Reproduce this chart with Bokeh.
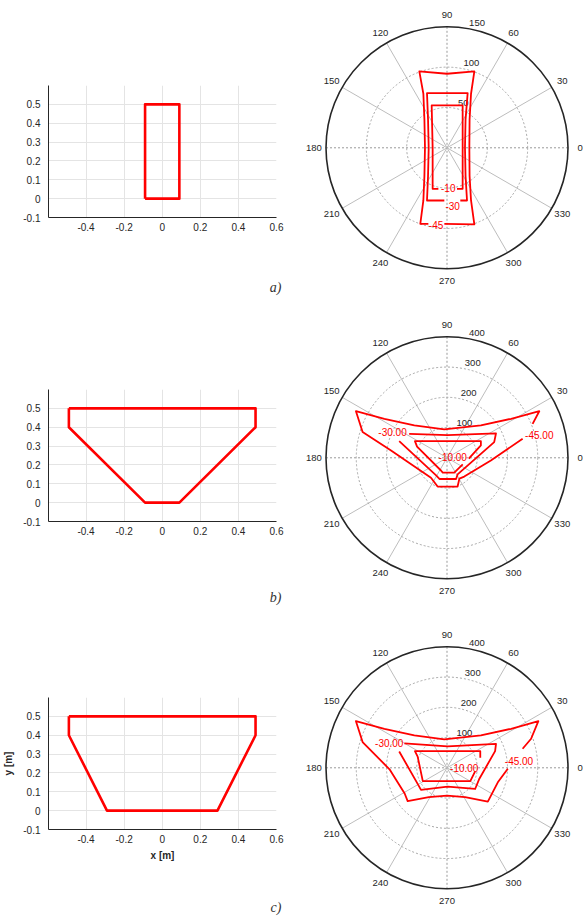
import math

from bokeh.core.properties import value
from bokeh.embed import file_html
from bokeh.layouts import column, row
from bokeh.models import FixedTicker, Range1d, Title
from bokeh.plotting import figure
from bokeh.resources import INLINE

SANS = "Liberation Sans"
SERIF = "Liberation Serif"
INK = "#262626"
RED = "#ff0000"

# ---------------------------------------------------------------------------
# Cross-section outlines [m]
# ---------------------------------------------------------------------------
sec_a_x = [-0.09, 0.09, 0.09, -0.09, -0.09]
sec_a_y = [0.0, 0.0, 0.5, 0.5, 0.0]

sec_b_x = [-0.49, 0.49, 0.49, 0.09, -0.09, -0.49, -0.49]
sec_b_y = [0.5, 0.5, 0.4, 0.0, 0.0, 0.4, 0.5]

sec_c_x = [-0.49, 0.49, 0.49, 0.29, -0.29, -0.49, -0.49]
sec_c_y = [0.5, 0.5, 0.4, 0.0, 0.0, 0.4, 0.5]

x_ticks = [-0.4, -0.2, 0.0, 0.2, 0.4, 0.6]
x_tick_labels = ["-0.4", "-0.2", "0", "0.2", "0.4", "0.6"]
y_ticks = [-0.1, 0.0, 0.1, 0.2, 0.3, 0.4, 0.5]
y_tick_labels = ["-0.1", "0", "0.1", "0.2", "0.3", "0.4", "0.5"]

# ---------------------------------------------------------------------------
# Polar diagrams: radial rings, spokes and contour lines (x/y in radial units)
# ---------------------------------------------------------------------------
rings_a = [50, 100, 150]
rings_b = [100, 200, 300, 400]
rings_c = [100, 200, 300, 400]
spoke_angles = [0, 30, 60, 90, 120, 150]
angle_labels = [0, 30, 60, 90, 120, 150, 180, 210, 240, 270, 300, 330]

# a) rectangular section
a_m10_x = [-10.7, -17.8, -17.8, -19.0, 19.4, 19.4, 19.4, 12.4]
a_m10_y = [-50.8, -50.8, 0.0, 52.5, 52.5, 0.0, -50.8, -50.8]
a_m30_x = [-3.3, -24.8, -23.5, -22.7, -23.5, -24.8, 25.6, 23.0, 22.3, 23.0, 24.8, 16.5]
a_m30_y = [-65.3, -65.3, -35.0, 0.0, 35.0, 67.8, 67.8, 35.0, 0.0, -35.0, -65.3, -65.3]
a_m45_x = [-23.1, -33.1, -29.3, -28.0, -27.3, -28.0, -29.3, -34.3, 0.0, 33.9,
           29.8, 28.0, 27.7, 28.0, 29.8, 33.9, -3.3]
a_m45_y = [-94.2, -94.2, -65.3, -35.0, 0.0, 35.0, 67.0, 94.7, 91.8, 94.7,
           67.0, 35.0, 0.0, -35.0, -65.3, -95.0, -94.2]
a_lab_text = ["-10", "-30", "-45"]
a_lab_x = [1.5, 7.0, -13.6]
a_lab_y = [-50.0, -72.3, -96.3]

# b) trapezoid with narrow bottom
b_m10_x = [72, 112, 112, -106, -99, -20, -14, 24, 52]
b_m10_y = [-3, 41, 55, 55, 37, -42, -49, -49, -22]
b_m30_x = [-125, 2, 162, 156, 35, 30, -25, -36, -158]
b_m30_y = [79, 75, 81, 52, -55, -70, -70, -58, 55]
b_m45_x = [283, 305, 212, 112, -9, -108, -207, -301, -279, -185, -53, -31,
           35, 41, 57, 145, 250]
b_m45_y = [112, 154, 129, 107, 94, 107, 129, 154, 85, 24, -66, -95,
           -95, -69, -62, -9, 63]
b_lab_text = ["-10.00", "-30.00", "-45.00"]
b_lab_x = [19, -180, 305]
b_lab_y = [2, 84, 77]

# c) trapezoid with wide bottom
c_m10_x = [110, 110, -106, -97, -80, 77, 93]
c_m10_y = [33, 55, 55, 37, -44, -44, -12]
c_m30_x = [-141, 2, 162, 159, 107, 93, 2, -86, -97, -158]
c_m30_y = [81, 71, 79, 55, -36, -70, -62, -73, -53, 54]
c_m45_x = [201, 168, 135, 60, 0, -60, -130, -140, -190, -279, -301, -207,
           -108, -9, 112, 212, 302, 278, 250]
c_m45_y = [-3, -48, -112, -97, -92, -97, -110, -85, -5, 85, 154, 129,
           107, 94, 107, 129, 154, 96, 63]
c_lab_text = ["-10.00", "-30.00", "-45.00"]
c_lab_x = [57, -191, 238]
c_lab_y = [-2, 82, 24]


# ---------------------------------------------------------------------------
def section_figure(xs, ys, height, top, tag, tag_gap, axis_labels=False):
    fw, fh = 228, 132
    x0, x1, y0, y1 = -0.597, 0.6, -0.1, 0.6
    p = figure(frame_width=fw, frame_height=fh,
               min_border_left=48, min_border_right=14,
               min_border_top=top, min_border_bottom=height - top - fh,
               x_range=Range1d(x0, x1), y_range=Range1d(y0, y1),
               toolbar_location=None, output_backend="svg")
    p.outline_line_color = None
    p.background_fill_color = "white"

    p.xaxis.ticker = FixedTicker(ticks=x_ticks)
    p.yaxis.ticker = FixedTicker(ticks=y_ticks)
    p.xaxis.major_label_overrides = dict(zip(x_ticks, x_tick_labels))
    p.yaxis.major_label_overrides = dict(zip(y_ticks, y_tick_labels))
    for ax in (p.xaxis, p.yaxis):
        ax.axis_line_color = INK
        ax.axis_line_width = 1
        ax.major_tick_in = 0
        ax.major_tick_out = 0
        ax.minor_tick_in = 0
        ax.minor_tick_out = 0
        ax.major_label_text_font = SANS
        ax.major_label_text_font_size = "10px"
        ax.major_label_text_color = INK
        ax.axis_label_text_font = SANS
        ax.axis_label_text_font_size = "10px"
        ax.axis_label_text_font_style = "bold"
        ax.axis_label_text_color = INK
    p.xaxis.major_label_standoff = 5
    p.yaxis.major_label_standoff = 8
    if axis_labels:
        p.xaxis.axis_label = "x [m]"
        p.yaxis.axis_label = "y [m]"
        p.xaxis.axis_label_standoff = 4
        p.yaxis.axis_label_standoff = 6

    p.xgrid.ticker = FixedTicker(ticks=x_ticks)
    p.ygrid.ticker = FixedTicker(ticks=y_ticks)
    p.grid.grid_line_color = "#e4e4e4"
    p.grid.grid_line_width = 1

    p.line(xs, ys, line_color=RED, line_width=2.6, line_join="round")

    # panel tag under the plot, right-aligned with the frame; an empty
    # title above it sets the gap to the x axis
    p.add_layout(Title(text=" ", text_font_size="1px", standoff=tag_gap), "below")
    p.add_layout(Title(text=tag, align="right", offset=-5, standoff=0,
                       text_font=SERIF, text_font_style="italic",
                       text_font_size="14px", text_color="#333333"), "below")
    return p


def polar_figure(rings, contours, lab_text, lab_x, lab_y, height, cy):
    W, cx, R = 294, 156.5, 121.0
    rmax = rings[-1]
    u = rmax / R
    p = figure(frame_width=W, frame_height=height, min_border=0,
               x_range=Range1d(-cx * u, (W - cx) * u),
               y_range=Range1d(-(height - cy) * u, cy * u),
               x_axis_location=None, y_axis_location=None,
               toolbar_location=None, output_backend="svg")
    p.grid.visible = False
    p.outline_line_color = None

    # spokes: the 0/90 diameters dashed, the others solid light gray
    for a in spoke_angles:
        t = math.radians(a)
        main = a % 90 == 0
        p.line([-rmax * math.cos(t), rmax * math.cos(t)],
               [-rmax * math.sin(t), rmax * math.sin(t)],
               line_color="#999999" if main else "#bdbdbd",
               line_width=1, line_dash="2 2" if main else "solid")
    # dotted inner rings, solid outer ring
    for r in rings[:-1]:
        p.circle(x=0, y=0, radius=r, fill_color=None, line_color="#a6a6a6",
                 line_width=1, line_dash="2 2")
    p.circle(x=0, y=0, radius=rmax, fill_color=None, line_color="#262626",
             line_width=1.6)

    # angle labels
    p.text([1.1 * rmax * math.cos(math.radians(a)) for a in angle_labels],
           [1.1 * rmax * math.sin(math.radians(a)) for a in angle_labels],
           text=[str(a) for a in angle_labels],
           text_font=value(SANS), text_font_size=value("9.5px"),
           text_color=INK, text_align="center", text_baseline="middle")
    # radial labels along the 82 degree direction
    rinc = rings[1] - rings[0]
    c82, s82 = math.cos(math.radians(82)), math.sin(math.radians(82))
    p.text([(r + rinc / 20) * c82 for r in rings],
           [(r + rinc / 20) * s82 for r in rings],
           text=[str(r) for r in rings], x_offset=5,
           text_font=value(SANS), text_font_size=value("9.5px"),
           text_color=INK, text_align="left", text_baseline="bottom")

    # contour lines with labels
    p.multi_line([c[0] for c in contours], [c[1] for c in contours],
                 line_color=RED, line_width=1.8, line_join="round")
    p.text(lab_x, lab_y, text=lab_text,
           text_font=value(SANS), text_font_size=value("10px"),
           text_color=RED, text_align="center", text_baseline="middle")
    return p


H1, H2, H3 = 305, 308, 308

la = section_figure(sec_a_x, sec_a_y, H1, 85, "a)", 41)
pa = polar_figure(rings_a, [(a_m10_x, a_m10_y), (a_m30_x, a_m30_y), (a_m45_x, a_m45_y)],
                  a_lab_text, a_lab_x, a_lab_y, H1, 147.3)

lb = section_figure(sec_b_x, sec_b_y, H2, 84, "b)", 47)
pb = polar_figure(rings_b, [(b_m10_x, b_m10_y), (b_m30_x, b_m30_y), (b_m45_x, b_m45_y)],
                  b_lab_text, b_lab_x, b_lab_y, H2, 152.3)

lc = section_figure(sec_c_x, sec_c_y, H3, 84, "c)", 31, axis_labels=True)
pc = polar_figure(rings_c, [(c_m10_x, c_m10_y), (c_m30_x, c_m30_y), (c_m45_x, c_m45_y)],
                  c_lab_text, c_lab_x, c_lab_y, H3, 154.3)

# sections in one column, polar diagrams in another, so that the frames of
# the two kinds of plot are laid out independently
layout = row(column(la, lb, lc, spacing=0), column(pa, pb, pc, spacing=0), spacing=0)

open("out.html", "w").write(file_html(layout, INLINE))
